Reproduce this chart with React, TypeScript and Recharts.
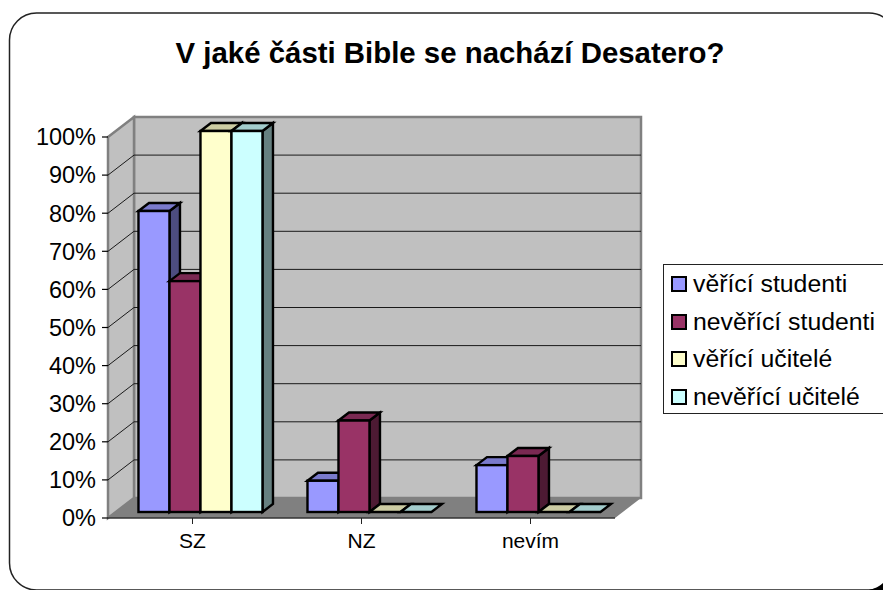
import React from 'react';
import { BarChart, Bar, XAxis, YAxis, CartesianGrid, Legend } from 'recharts';

const categories = ['SZ', 'NZ', 'nevím'];
const believingStudents = [79, 8.2, 12.3];
const nonBelievingStudents = [60.6, 24, 14.7];
const believingTeachers = [100, 0, 0];
const nonBelievingTeachers = [100, 0, 0];
const yTicks = [0, 10, 20, 30, 40, 50, 60, 70, 80, 90, 100];

const seriesNames = ['věřící studenti', 'nevěřící studenti', 'věřící učitelé', 'nevěřící učitelé'];
const fills = ['#9999ff', '#993366', '#ffffcc', '#ccffff'];
const tops = ['#7a7acc', '#7a2952', '#cccca3', '#a3cccc'];
const sides = ['#4d4d80', '#4d1a33', '#808066', '#668080'];

const rows = categories.map((c, i) => ({
  c,
  s0: believingStudents[i],
  s1: nonBelievingStudents[i],
  s2: believingTeachers[i],
  s3: nonBelievingTeachers[i],
}));

const FONT = '"Liberation Sans", Arial, sans-serif';
const P = { left: 108, top: 137, right: 615, bottom: 518 };
const D = { x: 26, y: -20 };
const WALL_LINE = '#808080';

const Walls = () => (
  <g>
    <polygon
      points={`${P.left},${P.bottom} ${P.right},${P.bottom} ${P.right + D.x},${P.bottom + D.y} ${P.left + D.x},${P.bottom + D.y}`}
      fill="#808080"
    />
    <polygon
      points={`${P.left + D.x},${P.top + D.y} ${P.right + D.x},${P.top + D.y} ${P.right + D.x},${P.bottom + D.y} ${P.left + D.x},${P.bottom + D.y}`}
      fill="#c0c0c0"
      stroke={WALL_LINE}
      strokeWidth={2.5}
    />
    <polygon
      points={`${P.left},${P.top} ${P.left + D.x},${P.top + D.y} ${P.left + D.x},${P.bottom + D.y} ${P.left},${P.bottom}`}
      fill="#c0c0c0"
      stroke={WALL_LINE}
      strokeWidth={2.5}
    />
  </g>
);

const gridLine = (props: any) => {
  const { x1, x2, y1, key } = props;
  if (Math.abs(y1 - P.bottom) < 1 || Math.abs(y1 - P.top) < 1) return <g key={key} />;
  return (
    <polyline
      key={key}
      points={`${x1},${y1} ${x1 + D.x},${y1 + D.y} ${x2 + D.x},${y1 + D.y}`}
      fill="none"
      stroke="#1a1a1a"
      strokeWidth={1}
    />
  );
};

const makeBar = (idx: number) => (props: any) => {
  const { x, y, width, height } = props;
  const ox = 8;
  const oy = -6;
  const dx = 10.5;
  const dy = -8;
  const l = x + ox;
  const r = l + width;
  const t = y + oy;
  const b = t + height;
  return (
    <g strokeLinejoin="miter" stroke="#000" strokeWidth={2.4}>
      {height > 0.5 && (
        <polygon points={`${r},${t} ${r + dx},${t + dy} ${r + dx},${b + dy} ${r},${b}`} fill={sides[idx]} />
      )}
      <polygon points={`${l},${t} ${l + dx},${t + dy} ${r + dx},${t + dy} ${r},${t}`} fill={tops[idx]} />
      {height > 0.5 && <rect x={l} y={t} width={width} height={height} fill={fills[idx]} />}
    </g>
  );
};

const LegendBox = () => (
  <div
    style={{
      boxSizing: 'border-box',
      width: 240,
      height: 150,
      border: '1.5px solid #222',
      background: '#fff',
      fontFamily: FONT,
      fontSize: 24.8,
      color: '#000',
      position: 'relative',
    }}
  >
    {seriesNames.map((n, i) => (
      <div key={n} style={{ position: 'absolute', left: 29, top: 5 + i * 37.5, lineHeight: '28px', whiteSpace: 'nowrap' }}>
        <span
          style={{
            position: 'absolute',
            left: -22,
            top: 6,
            width: 16,
            height: 16,
            boxSizing: 'border-box',
            border: '2.5px solid #000',
            background: fills[i],
          }}
        />
        {n}
      </div>
    ))}
  </div>
);

export default function App() {
  return (
    <div style={{ position: 'absolute', left: 0, top: 0, width: 883, height: 590, overflow: 'hidden', background: '#fff' }}>
      <svg width={883} height={590} style={{ position: 'absolute', left: 0, top: 0 }}>
        <rect x={9.5} y={13} width={886.5} height={577} rx={27} ry={27} fill="#fff" stroke="#222" strokeWidth={1.5} />
        <path d="M869,590 Q878,588 883,583 L883,590 Z" fill="#000" />
        <text x={450} y={63} textAnchor="middle" fontFamily={FONT} fontWeight="bold" fontSize={29.4} fill="#000">
          V jaké části Bible se nachází Desatero?
        </text>
        <Walls />
      </svg>
      <div style={{ position: 'absolute', left: 0, top: 0 }}>
        <BarChart
          width={883}
          height={590}
          data={rows}
          barCategoryGap="13.3%"
          barGap={0}
          margin={{ left: 0, top: P.top, right: 883 - P.right, bottom: 0 }}
        >
          <CartesianGrid vertical={false} horizontal={gridLine} />
          <XAxis
            dataKey="c"
            height={590 - P.bottom}
            tick={{ fontFamily: FONT, fontSize: 21, fill: '#000' }}
            tickLine={{ stroke: '#222', strokeWidth: 1 }}
            axisLine={{ stroke: '#333', strokeWidth: 1.5 }}
            tickSize={6}
            tickMargin={9}
            interval={0}
          />
          <YAxis
            width={P.left}
            domain={[0, 100]}
            ticks={yTicks}
            interval={0}
            tickFormatter={(v: number) => `${v}%`}
            tick={{ fontFamily: FONT, fontSize: 23.5, fill: '#000' }}
            tickLine={{ stroke: '#000', strokeWidth: 1.2 }}
            axisLine={false}
            tickSize={6}
            tickMargin={6}
          />
          <Legend
            layout="vertical"
            align="center"
            verticalAlign="middle"
            content={<LegendBox />}
            wrapperStyle={{ position: 'absolute', left: 663, top: 264, width: 240, height: 150 }}
          />
          <Bar dataKey="s0" name={seriesNames[0]} fill={fills[0]} shape={makeBar(0)} isAnimationActive={false} />
          <Bar dataKey="s1" name={seriesNames[1]} fill={fills[1]} shape={makeBar(1)} isAnimationActive={false} />
          <Bar dataKey="s2" name={seriesNames[2]} fill={fills[2]} shape={makeBar(2)} isAnimationActive={false} />
          <Bar dataKey="s3" name={seriesNames[3]} fill={fills[3]} shape={makeBar(3)} isAnimationActive={false} />
        </BarChart>
      </div>
    </div>
  );
}
